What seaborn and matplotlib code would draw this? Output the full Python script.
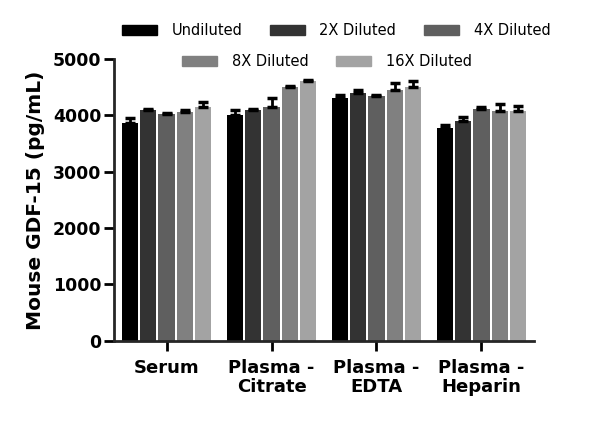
import numpy as np
import pandas as pd
import matplotlib
matplotlib.use("Agg")
import matplotlib.pyplot as plt
import seaborn as sns

# values
samples = ["Serum", "Plasma -\nCitrate", "Plasma -\nEDTA", "Plasma -\nHeparin"]
dilutions = ["Undiluted", "2X Diluted", "4X Diluted", "8X Diluted", "16X Diluted"]
means = [
    [3870, 4090, 4030, 4060, 4150],
    [4000, 4100, 4150, 4510, 4600],
    [4300, 4400, 4340, 4450, 4500],
    [3780, 3900, 4110, 4080, 4080],
]
errors = [
    [90, 15, 15, 40, 90],
    [100, 15, 150, 10, 20],
    [60, 40, 20, 120, 110],
    [50, 70, 30, 120, 80],
]
colors = ["#000000", "#333333", "#5f5f5f", "#808080", "#a3a3a3"]

rows = []
for s, m_row, e_row in zip(samples, means, errors):
    for d, m, e in zip(dilutions, m_row, e_row):
        rows.append({"sample": s, "dilution": d, "value": m, "err": e})
df = pd.DataFrame(rows)

sns.set_style("ticks")
plt.rcParams["font.family"] = ["DejaVu Sans"]
plt.rcParams["text.color"] = "black"
plt.rcParams["xtick.color"] = "black"
plt.rcParams["ytick.color"] = "black"
plt.rcParams["axes.labelcolor"] = "black"

fig = plt.figure(figsize=(6.0, 4.33), dpi=100)
ax = fig.add_axes([0.19, 0.213, 0.70, 0.651])

sns.barplot(data=df, x="sample", y="value", hue="dilution", order=samples,
            hue_order=dilutions, palette=colors, errorbar=None, width=0.87,
            saturation=1, ax=ax, legend=False)

bar_conts = list(ax.containers)

# shrink bars a bit to leave small gaps, then add upper error bars only
for d, cont in zip(dilutions, bar_conts):
    sub = df[df["dilution"] == d].set_index("sample").loc[samples]
    for bar, (_, r) in zip(cont, sub.iterrows()):
        bar.set_linewidth(0)
        w = bar.get_width()
        bar.set_x(bar.get_x() + w * 0.06)
        bar.set_width(w * 0.88)
        x = bar.get_x() + bar.get_width() / 2
        ax.errorbar(x, r["value"], yerr=[[0], [r["err"]]], fmt="none",
                    ecolor="black", elinewidth=2, capsize=3.5, capthick=2.5)

ax.set_ylim(0, 5000)
ax.set_yticks([0, 1000, 2000, 3000, 4000, 5000])
ax.set_xlim(-0.5, 3.5)
ax.set_xlabel("")
ax.set_ylabel("Mouse GDF-15 (pg/mL)", fontsize=14.5, fontweight="bold",
              labelpad=6)
ax.tick_params(axis="y", labelsize=12.5, width=2, length=7, pad=2)
ax.tick_params(axis="x", labelsize=13, width=2, length=7, pad=6)
for lab in ax.get_xticklabels() + ax.get_yticklabels():
    lab.set_fontweight("bold")
for lab in ax.get_xticklabels():
    lab.set_linespacing(1.05)
sns.despine(ax=ax)
ax.spines["left"].set_linewidth(2)
ax.spines["bottom"].set_linewidth(2)

handles = [plt.Rectangle((0, 0), 1, 1, color=c) for c in colors]
leg1 = fig.legend(handles[:3], dilutions[:3], loc="center", ncol=3,
                  bbox_to_anchor=(0.56, 0.93), frameon=False, fontsize=10.5,
                  handlelength=2.4, handleheight=0.7, handletextpad=1.0,
                  columnspacing=1.9)
leg2 = fig.legend(handles[3:], dilutions[3:], loc="center", ncol=2,
                  bbox_to_anchor=(0.545, 0.858), frameon=False, fontsize=10.5,
                  handlelength=2.4, handleheight=0.7, handletextpad=1.0,
                  columnspacing=1.9)

fig.savefig("out.png", dpi=100)
